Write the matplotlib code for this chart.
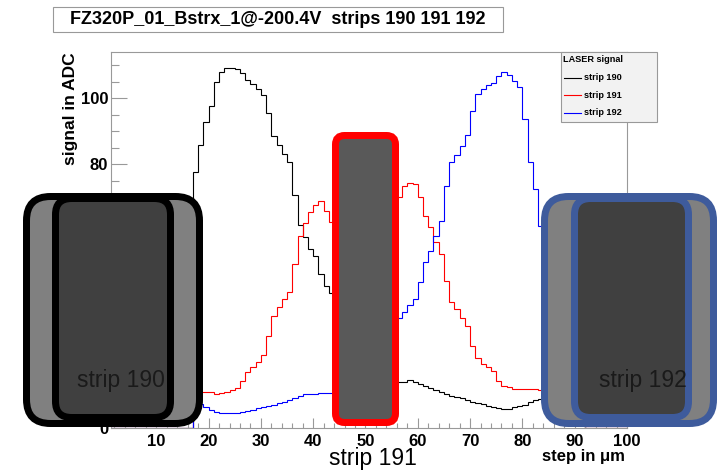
import numpy as np
import matplotlib.pyplot as plt
from matplotlib.patches import FancyBboxPatch, Rectangle
from matplotlib.ticker import MultipleLocator

plt.rcParams['font.family'] = ['Liberation Sans', 'DejaVu Sans']

title = "FZ320P_01_Bstrx_1@-200.4V  strips 190 191 192"
labels = ["strip 190", "strip 191", "strip 192"]
colors = ["black", "red", "blue"]

# 1 um steps, bins [i, i+1)
edges = np.arange(0, 101)

sig_190 = [0] * 17 + [
    77.5, 85.8, 92.8, 97.7, 105.0, 108.0, 109.0, 109.0, 108.8, 107.6,
    105.5, 104.2, 102.9, 101.0, 95.5, 88.4, 85.8, 83.0, 80.5, 70.7,
    61.5, 57.8, 54.2, 52.0, 46.7, 43.1, 40.9,
    37, 33, 30, 27, 24, 21.5, 19.5, 18, 16.5, 15.5, 14.8, 14.3, 14.0,
    14.0, 14.5, 14.0, 13.3, 12.6, 12.0, 11.5, 11.0, 10.3, 9.8,
    9.3, 9.0, 8.5, 8.0, 7.6, 7.3, 6.8, 6.3, 6.0, 5.8,
    5.8, 6.5, 6.8, 7.1, 7.8, 8.5, 8.8, 9.2, 9.5, 9.8,
    10, 10, 10.2, 10.2, 10.3] + [0] * 8

sig_191 = [0] * 17 + [
    11.0, 11.0, 10.8, 10.8, 10.3, 10.5, 11.0, 11.6, 12.0, 14.3,
    17.1, 18.4, 20.1, 22.1, 27.8, 34.0, 36.6, 39.1, 41.1, 49.7,
    58.3, 62.3, 65.4, 67.6, 68.9, 65.8, 62.6,
    58, 52, 46, 42, 40, 39, 39, 40, 43, 48, 55, 62,
    69.9, 73.4, 74.4, 73.9, 69.9, 64.3, 60.8, 56.3, 52.7, 44.6,
    38.1, 36.1, 33.5, 31.0, 24.9, 21.1, 19.4, 18.4, 17.4, 14.3,
    12.8, 12.3, 11.8, 11.8, 11.8, 11.8, 11.8, 11.6, 11.4, 11.2,
    11, 11, 10.8, 10.8, 10.6, 10.6] + [0] * 8

sig_192 = [0] * 17 + [
    7.0, 7.3, 6.3, 5.5, 5.0, 4.6, 4.5, 4.5, 4.5, 5.0,
    5.2, 5.5, 6.0, 6.3, 6.6, 7.0, 7.5, 8.0, 8.5, 9.0,
    9.8, 10.3, 10.3, 10.3, 10.5, 10.5, 10.5,
    11, 12, 14, 16, 18, 20, 22, 24, 26, 28, 30, 31.5,
    33.2, 35.2, 37.3, 39.1, 44.2, 50.2, 53.7, 58.3, 62.8, 73.4,
    80.7, 82.7, 85.5, 88.8, 96.2, 101.2, 102.7, 103.9, 104.7, 106.8,
    107.8, 107.0, 105.2, 103.5, 93.8, 80.5, 72.4, 61.3, 50, 40,
    32, 26, 22, 19, 17, 15] + [0] * 8

W, H = 722, 471
fig = plt.figure(figsize=(W / 100, H / 100), dpi=100)

ax = fig.add_axes([111 / W, 1 - 428 / H, (627 - 111) / W, (428 - 52) / H])
for sig, c, lab in zip([sig_190, sig_191, sig_192], colors, labels):
    ax.stairs(sig, edges, color=c, lw=0.8, baseline=None, label=lab)

ax.set_xlim(1.34, 100)
ax.set_ylim(0, 114)
ax.xaxis.set_major_locator(MultipleLocator(10))
ax.xaxis.set_minor_locator(MultipleLocator(2))
ax.yaxis.set_major_locator(MultipleLocator(20))
ax.yaxis.set_minor_locator(MultipleLocator(5))
frame = "#999999"
for s in ax.spines.values():
    s.set_color(frame)
    s.set_linewidth(0.8)
ax.tick_params(axis="both", which="both", direction="in", color=frame,
               labelsize=12, width=0.8)
ax.tick_params(axis="x", which="major", length=7.2, pad=4)
ax.tick_params(axis="x", which="minor", length=3.6)
ax.tick_params(axis="y", which="major", length=11.5, pad=2)
ax.tick_params(axis="y", which="minor", length=5.8)
for t in ax.get_xticklabels() + ax.get_yticklabels():
    t.set_fontweight("bold")

# pixel-space overlay for title, axis titles, legend and strip sketches
ov = fig.add_axes([0, 0, 1, 1], zorder=10)
ov.set_xlim(0, W)
ov.set_ylim(H, 0)
ov.axis("off")
ov.patch.set_visible(False)

ov.add_patch(Rectangle((53, 7), 450, 25, fc="white", ec=frame, lw=0.8))
ov.text(278, 19.5, title, ha="center", va="center", fontsize=13,
        fontweight="bold")
ov.text(70, 52, "signal in ADC", rotation=90, ha="center", va="top",
        fontsize=12.5, fontweight="bold")
ov.text(625, 456, "step in \u03bcm", ha="right", va="center", fontsize=12,
        fontweight="bold")

# legend
ov.add_patch(Rectangle((561, 52), 96, 70, fc="#f2f2f2", ec=frame, lw=0.8))
ov.text(563, 60, "LASER signal", ha="left", va="center", fontsize=6.6,
        fontweight="bold")
for i, (c, lab) in enumerate(zip(colors, labels)):
    y = 77.5 + i * 17.5
    ov.plot([564, 581], [y, y], color=c, lw=0.8)
    ov.text(584, y, lab, ha="left", va="center", fontsize=6.6,
            fontweight="bold")


def box(x0, y0, x1, y1, r, fc, ec, lw=7):
    h = lw / 2
    ov.add_patch(FancyBboxPatch((x0 + h, y0 + h), x1 - x0 - lw, y1 - y0 - lw,
                                boxstyle="round,pad=0,rounding_size=%g" % r,
                                fc=fc, ec=ec, lw=lw * 0.72))


blue_edge = "#3e5b9c"
box(23, 193, 203, 427, 24, "#808080", "black")
box(52, 195, 174, 421, 16, "#404040", "black")
box(332, 132, 399, 426, 9, "#595959", "red")
box(541, 193, 717, 427, 24, "#808080", blue_edge)
box(571, 195, 692, 421, 16, "#404040", blue_edge)

ov.text(121, 387, labels[0], ha="center", va="baseline", fontsize=16.5,
        color="#1a1a1a")
ov.text(643, 387, labels[2], ha="center", va="baseline", fontsize=16.5,
        color="#1a1a1a")
ov.text(373, 465, labels[1], ha="center", va="baseline", fontsize=16.5,
        color="black")

fig.savefig("out.png", dpi=100)
